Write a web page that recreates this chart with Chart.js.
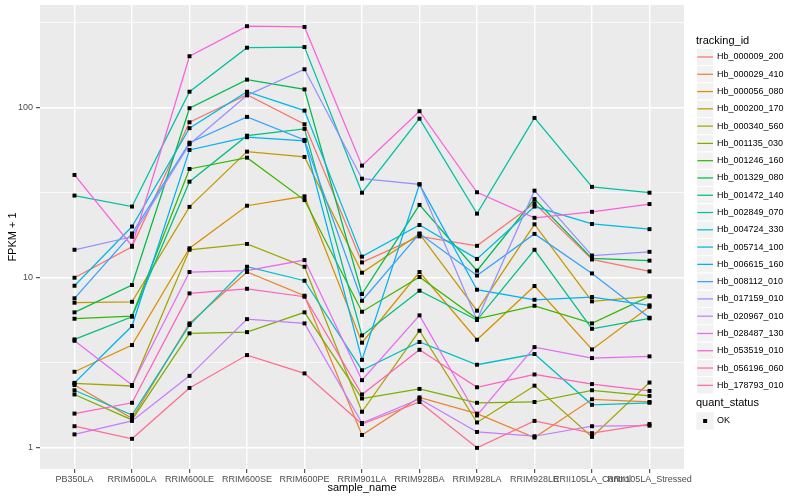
<!DOCTYPE html>
<html>
<head>
<meta charset="utf-8">
<script src="https://cdn.jsdelivr.net/npm/chart.js@4.4.0/dist/chart.umd.min.js"></script>
<style>
html,body{margin:0;padding:0;background:#ffffff;}
#wrap{width:800px;height:500px;position:relative;}
</style>
</head>
<body>
<div id="wrap"><canvas id="c" width="800" height="500"></canvas></div>
<script>
// ---------------- data (values are FPKM + 1, as plotted) ----------------
const sampleNames = ["PB350LA","RRIM600LA","RRIM600LE","RRIM600SE","RRIM600PE","RRIM901LA","RRIM928BA","RRIM928LA","RRIM928LE","RRII105LA_Control","RRII105LA_Stressed"];
const trackingIds = ["Hb_000009_200","Hb_000029_410","Hb_000056_080","Hb_000200_170","Hb_000340_560","Hb_001135_030","Hb_001246_160","Hb_001329_080","Hb_001472_140","Hb_002849_070","Hb_004724_330","Hb_005714_100","Hb_006615_160","Hb_008112_010","Hb_017159_010","Hb_020967_010","Hb_028487_130","Hb_053519_010","Hb_056196_060","Hb_178793_010"];
const quantStatus = ["OK"];

const Hb_000009_200 = [10.0, 15.2, 82.0, 119, 79.8, 12.3, 17.5, 15.4, 27.4, 12.8, 10.9];
const Hb_000029_410 = [2.34, 1.49, 5.39, 10.8, 7.84, 1.19, 1.98, 1.59, 1.15, 1.93, 1.86];
const Hb_000056_080 = [2.80, 4.02, 14.9, 26.5, 30.1, 4.15, 10.8, 4.32, 8.94, 3.79, 6.75];
const Hb_000200_170 = [7.13, 7.22, 26.1, 55.1, 51.3, 10.7, 18.1, 6.40, 20.6, 7.26, 7.77];
const Hb_000340_560 = [2.39, 2.31, 14.6, 15.8, 11.6, 1.63, 4.88, 1.41, 2.32, 1.16, 2.42];
const Hb_001135_030 = [2.06, 1.46, 4.71, 4.79, 6.26, 1.95, 2.22, 1.84, 1.86, 2.18, 2.02];
const Hb_001246_160 = [5.74, 5.95, 43.6, 50.8, 28.6, 6.31, 10.1, 5.74, 6.84, 5.39, 7.77];
const Hb_001329_080 = [6.26, 9.06, 99.2, 146, 128, 8.02, 26.8, 11.0, 29.0, 13.0, 12.6];
const Hb_001472_140 = [4.34, 5.90, 36.7, 68.4, 75.0, 4.58, 8.39, 5.64, 14.6, 5.01, 5.77];
const Hb_002849_070 = [30.4, 26.2, 124, 225, 227, 31.6, 86.1, 23.8, 87.0, 34.2, 31.6];
const Hb_004724_330 = [2.18, 1.56, 5.27, 11.6, 9.60, 2.86, 4.19, 3.08, 3.56, 1.79, 1.84];
const Hb_005714_100 = [8.97, 20.0, 75.7, 124, 96.0, 13.3, 20.4, 12.9, 26.2, 20.7, 19.3];
const Hb_006615_160 = [2.41, 5.20, 56.4, 67.0, 63.7, 3.29, 35.4, 8.50, 7.42, 7.70, 6.88];
const Hb_008112_010 = [7.57, 18.2, 62.2, 88.2, 64.6, 7.32, 18.2, 10.3, 18.1, 10.6, 5.82];
const Hb_017159_010 = [14.6, 17.4, 60.9, 118, 168, 38.2, 35.4, 5.64, 32.5, 13.5, 14.2];
const Hb_020967_010 = [1.20, 1.44, 2.65, 5.71, 5.39, 1.40, 1.94, 1.24, 1.17, 1.34, 1.35];
const Hb_028487_130 = [4.26, 2.34, 10.8, 11.0, 12.7, 2.50, 6.01, 1.55, 3.91, 3.37, 3.45];
const Hb_053519_010 = [40.2, 15.4, 200.5, 301, 298, 45.6, 95.2, 31.8, 22.5, 24.4, 27.1];
const Hb_056196_060 = [1.59, 1.84, 8.09, 8.61, 7.73, 2.06, 3.77, 2.27, 2.70, 2.37, 2.16];
const Hb_178793_010 = [1.34, 1.13, 2.25, 3.51, 2.74, 1.38, 1.86, 1.00, 1.44, 1.22, 1.38];

const yMajorTicks = [1, 10, 100];
const yMinorBreaks = [3.1623, 31.623, 316.23];

// ---------------- styles ----------------
const palette = ["#F8766D","#EA8331","#D89000","#C09B00","#A3A500","#7CAE00","#39B600","#00BB4E","#00BF7D","#00C1A3","#00BFC4","#00BAE0","#00B0F6","#35A2FF","#9590FF","#C77CFF","#E76BF3","#FA62DB","#FF62BC","#FF6C91"];
const FONT = '"Liberation Sans", Arial, Helvetica, sans-serif';

const seriesValues = [Hb_000009_200, Hb_000029_410, Hb_000056_080, Hb_000200_170, Hb_000340_560, Hb_001135_030, Hb_001246_160, Hb_001329_080, Hb_001472_140, Hb_002849_070, Hb_004724_330, Hb_005714_100, Hb_006615_160, Hb_008112_010, Hb_017159_010, Hb_020967_010, Hb_028487_130, Hb_053519_010, Hb_056196_060, Hb_178793_010];

const toPoints = vals => vals.map((v, j) => ({x: j, y: v}));

const lineSets = trackingIds.map((id, i) => ({
  label: id,
  data: toPoints(seriesValues[i]),
  borderColor: palette[i],
  backgroundColor: palette[i],
  borderWidth: 1.25,
  pointRadius: 0,
  fill: false,
  tension: 0,
  order: 100 - i
}));
const pointSets = trackingIds.map((id, i) => ({
  label: id + ' (' + quantStatus[0] + ')',
  data: toPoints(seriesValues[i]),
  showLine: false,
  pointStyle: 'rect',
  pointRadius: 2.8,
  pointBorderWidth: 0,
  pointBackgroundColor: '#000000',
  pointBorderColor: '#000000',
  order: 0
}));

const isMajorVal = v => yMajorTicks.some(m => Math.abs(m - v) < 1e-6);

const bgPlugin = {
  id: 'ggBackground',
  beforeDraw(chart) {
    const {ctx, chartArea: a} = chart;
    ctx.save();
    ctx.fillStyle = '#FFFFFF';
    ctx.fillRect(0, 0, chart.width, chart.height);
    ctx.fillStyle = '#EBEBEB';
    ctx.fillRect(a.left, a.top, a.right - a.left, a.bottom - a.top);
    ctx.restore();
  }
};

const legendPlugin = {
  id: 'ggLegend',
  afterDraw(chart) {
    const ctx = chart.ctx;
    const keyH = 17.28, keyX = 696.5, keyW = 17.28, textX = 717;
    ctx.save();
    ctx.textAlign = 'left';
    ctx.textBaseline = 'middle';
    ctx.fillStyle = '#000000';
    ctx.font = '11px ' + FONT;
    ctx.fillText('tracking_id', 696, 40.5);
    const y0 = 57;
    trackingIds.forEach((id, i) => {
      const cy = y0 + i * keyH;
      ctx.fillStyle = '#F2F2F2';
      ctx.fillRect(keyX, cy - keyH / 2, keyW, keyH);
      ctx.strokeStyle = '#FFFFFF';
      ctx.lineWidth = 1;
      ctx.strokeRect(keyX, cy - keyH / 2, keyW, keyH);
      ctx.strokeStyle = palette[i];
      ctx.lineWidth = 1.25;
      ctx.beginPath();
      ctx.moveTo(keyX + 0.8, cy);
      ctx.lineTo(keyX + keyW - 0.8, cy);
      ctx.stroke();
      ctx.fillStyle = '#000000';
      ctx.font = '9px ' + FONT;
      ctx.fillText(id, textX, cy);
    });
    // quant_status legend
    ctx.font = '11px ' + FONT;
    ctx.fillText('quant_status', 696, 403);
    const qy = 421;
    ctx.fillStyle = '#F2F2F2';
    ctx.fillRect(keyX, qy - keyH / 2, keyW, keyH);
    ctx.fillStyle = '#000000';
    ctx.fillRect(keyX + keyW / 2 - 2, qy - 2, 4, 4);
    ctx.font = '9px ' + FONT;
    ctx.fillText(quantStatus[0], textX, qy);
    ctx.restore();
  }
};

new Chart(document.getElementById('c'), {
  type: 'line',
  data: {datasets: [...pointSets, ...lineSets]},
  plugins: [bgPlugin, legendPlugin],
  options: {
    responsive: false,
    animation: false,
    devicePixelRatio: 1,
    layout: {padding: {left: 0, right: 116, top: 5, bottom: 0}},
    plugins: {legend: {display: false}, tooltip: {enabled: false}},
    scales: {
      x: {
        type: 'linear',
        min: -0.6,
        max: sampleNames.length - 1 + 0.6,
        afterBuildTicks: s => { s.ticks = sampleNames.map((_, i) => ({value: i})); },
        afterFit: s => { s.height = 31; s.paddingLeft = 0; s.paddingRight = 0; },
        ticks: {
          autoSkip: false, maxRotation: 0, minRotation: 0, padding: 1,
          color: '#4D4D4D', font: {family: FONT, size: 9},
          callback: v => sampleNames[Math.round(v)]
        },
        grid: {color: '#FFFFFF', lineWidth: 1.4, drawTicks: true, tickLength: 4, tickColor: '#333333', tickWidth: 1},
        border: {display: false},
        title: {display: true, text: 'sample_name', color: '#000000', font: {family: FONT, size: 11}, padding: {top: 0, bottom: 5}}
      },
      y: {
        type: 'logarithmic',
        min: 0.751,
        max: 401,
        bounds: 'data',
        afterBuildTicks: s => {
          s.ticks = [...yMajorTicks, ...yMinorBreaks].sort((a, b) => a - b).map(v => ({value: v}));
        },
        afterFit: s => { s.width = 40; s.paddingTop = 0; s.paddingBottom = 0; },
        ticks: {
          autoSkip: false, padding: 3,
          color: '#4D4D4D', font: {family: FONT, size: 9},
          callback: v => isMajorVal(v) ? String(v) : ''
        },
        grid: {
          color: '#FFFFFF',
          lineWidth: c => (c.tick && isMajorVal(c.tick.value)) ? 1.4 : 0.7,
          drawTicks: true, tickLength: 4,
          tickColor: c => (c.tick && isMajorVal(c.tick.value)) ? '#333333' : 'rgba(0,0,0,0)',
          tickWidth: 1
        },
        border: {display: false},
        title: {display: true, text: 'FPKM + 1', color: '#000000', font: {family: FONT, size: 11}, padding: {top: 6, bottom: 0}}
      }
    }
  }
});
</script>
</body>
</html>
